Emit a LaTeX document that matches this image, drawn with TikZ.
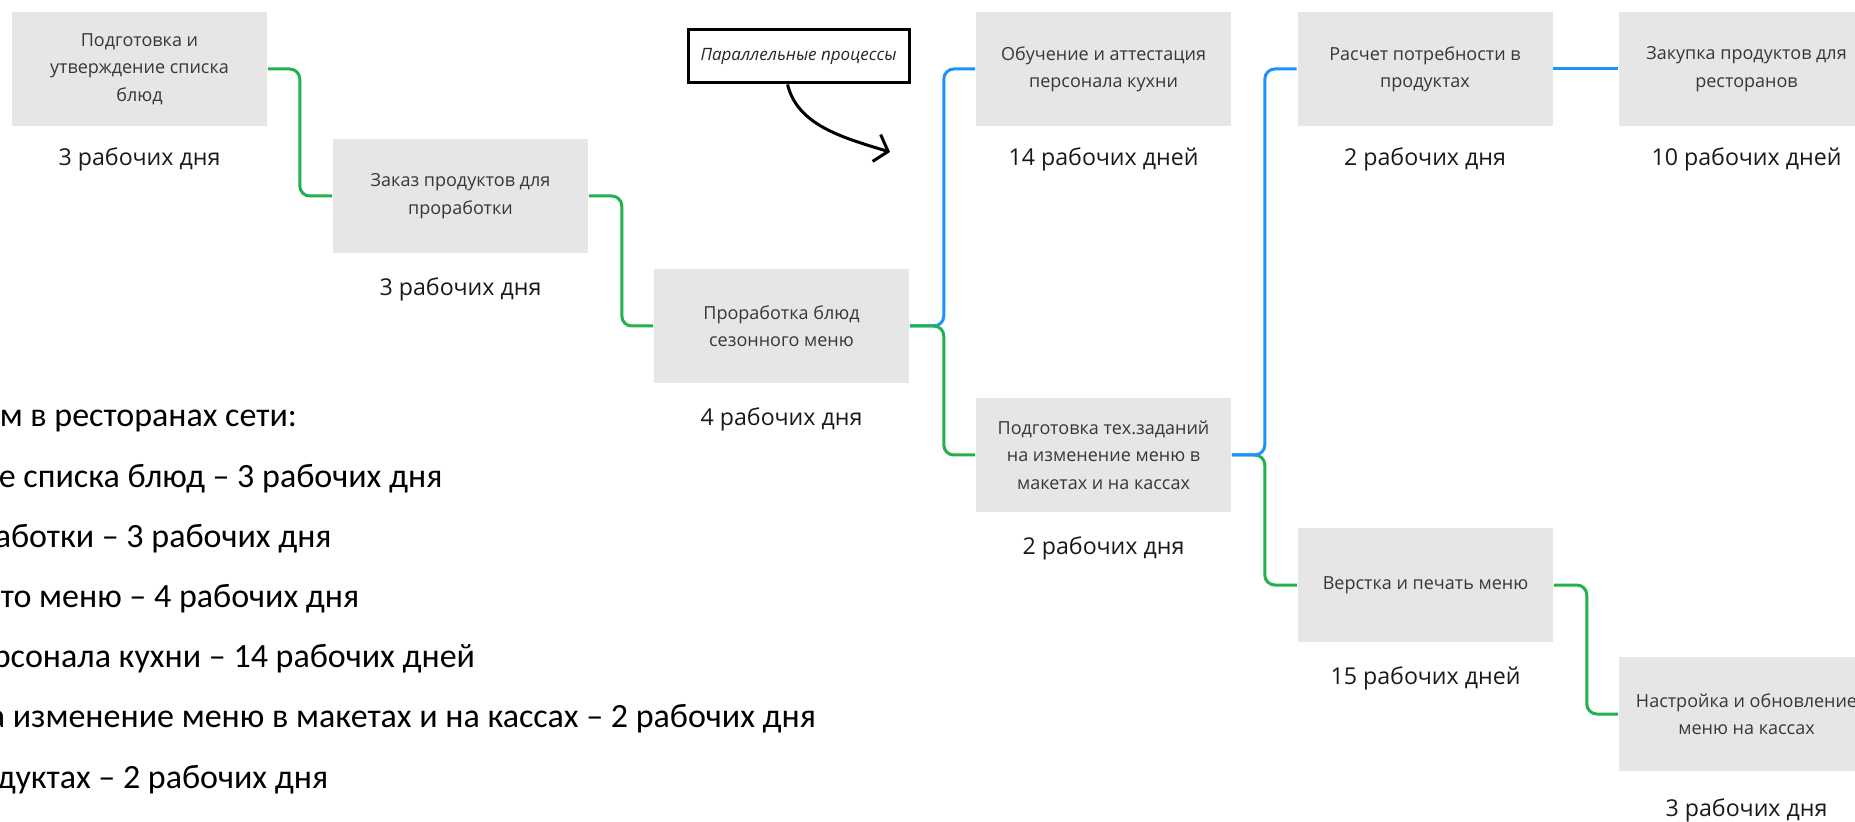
\documentclass[tikz,border=0pt]{standalone}
\usepackage{fontspec}
\setmainfont{Open Sans}
\newfontfamily\listfont{Carlito}
\usetikzlibrary{positioning,arrows.meta,calc}
\definecolor{boxgray}{RGB}{230,230,230}
\definecolor{boxtext}{RGB}{55,55,55}
\definecolor{lgreen}{RGB}{34,177,76}
\definecolor{lblue}{RGB}{28,146,255}

\begin{document}
\begin{tikzpicture}[x=0.5pt,y=-0.5pt,thick]
\tikzstyle{task} = [fill=boxgray,shape=rectangle,minimum width=127.5pt,minimum height=57pt,align=center,text=boxtext,font=\fontsize{9}{13.7}\selectfont]
\tikzstyle{dur} = [inner sep=0pt,text=black!90,font=\fontsize{11.6}{14}\selectfont]
\tikzstyle{gline} = [draw=lgreen,line width=1.5pt,rounded corners=5pt]
\tikzstyle{bline} = [draw=lblue,line width=1.5pt,rounded corners=5pt]
\tikzstyle{note} = [draw=black,line width=1.5pt,fill=white,minimum width=110.5pt,minimum height=26.5pt,font=\itshape\fontsize{8.5}{10}\selectfont,text=black!85]
\tikzstyle{txt} = [anchor=base west,inner sep=0pt,font=\listfont\fontsize{17}{20}\selectfont]
\useasboundingbox (0,0) rectangle (1855,822);
\clip (0,0) rectangle (1855,822);

\node[task] (b1) at (139.5,69) {Подготовка и\\утверждение списка\\блюд};
\node[task] (b2) at (460.5,196) {Заказ продуктов для\\проработки};
\node[task] (b3) at (781.5,326) {Проработка блюд\\сезонного меню};
\node[task] (b4) at (1103.5,69) {Обучение и аттестация\\персонала кухни};
\node[task] (b5) at (1103.5,455) {Подготовка тех.заданий\\на изменение меню в\\макетах и на кассах};
\node[task] (b6) at (1425,69) {Расчет потребности в\\продуктах};
\node[task] (b7) at (1746.5,69) {Закупка продуктов для\\ресторанов};
\node[task] (b8) at (1425.5,585) {Верстка и печать меню};
\node[task] (b9) at (1746.5,714) {Настройка и обновление\\меню на кассах};

\node[dur,below=10pt of b1] (d1) {3 рабочих дня};
\node[dur,below=11.5pt of b2] (d2) {3 рабочих дня};
\node[dur,below=11.5pt of b3] (d3) {4 рабочих дня};
\node[dur,below=10pt of b4] (d4) {14 рабочих дней};
\node[dur,below=11.5pt of b5] (d5) {2 рабочих дня};
\node[dur,below=10pt of b6] (d6) {2 рабочих дня};
\node[dur,below=10pt of b7] (d7) {10 рабочих дней};
\node[dur,below=11.5pt of b8] (d8) {15 рабочих дней};
\node[dur,below=13pt of b9] (d9) {3 рабочих дня};

\draw[gline] (b1.east) -- ++(32,0) |- (b2.west);
\draw[gline] (b2.east) -- ++(33,0) |- (b3.west);
\draw[bline] (b3.east) -- ++(34,0) |- (b4.west);
\draw[gline] (b3.east) -- ++(34,0) |- (b5.west);
\draw[gline] (b5.east) -- ++(33,0) |- (b8.west);
\draw[bline] (b5.east) -- ++(33,0) |- (b6.west);
\draw[bline] (b6.east) -- (b7.west);
\draw[gline] (b8.east) -- ++(33,0) |- (b9.west);

\node[note] (pp) at (798.5,56.5) {Параллельные процессы};
\coordinate (pptip) at (890,152);
\draw[line width=1.5pt,-{Straight Barb[length=6pt,width=14pt]}] ([xshift=-5.5pt]pp.south) .. controls +(10,40) and +(-50,-15) .. (pptip);

\node[txt] (l1) at (-1,427) {м в ресторанах сети:};
\node[txt] (l2) at (-2,488) {е списка блюд – 3 рабочих дня};
\node[txt] (l3) at (-6,547) {аботки – 3 рабочих дня};
\node[txt] (l4) at (0,607) {то меню – 4 рабочих дня};
\node[txt] (l5) at (-8,667) {рсонала кухни – 14 рабочих дней};
\node[txt] (l6) at (-12,727) {а изменение меню в макетах и на кассах – 2 рабочих дня};
\node[txt] (l7) at (-4,788) {дуктах – 2 рабочих дня};
\end{tikzpicture}
\end{document}
